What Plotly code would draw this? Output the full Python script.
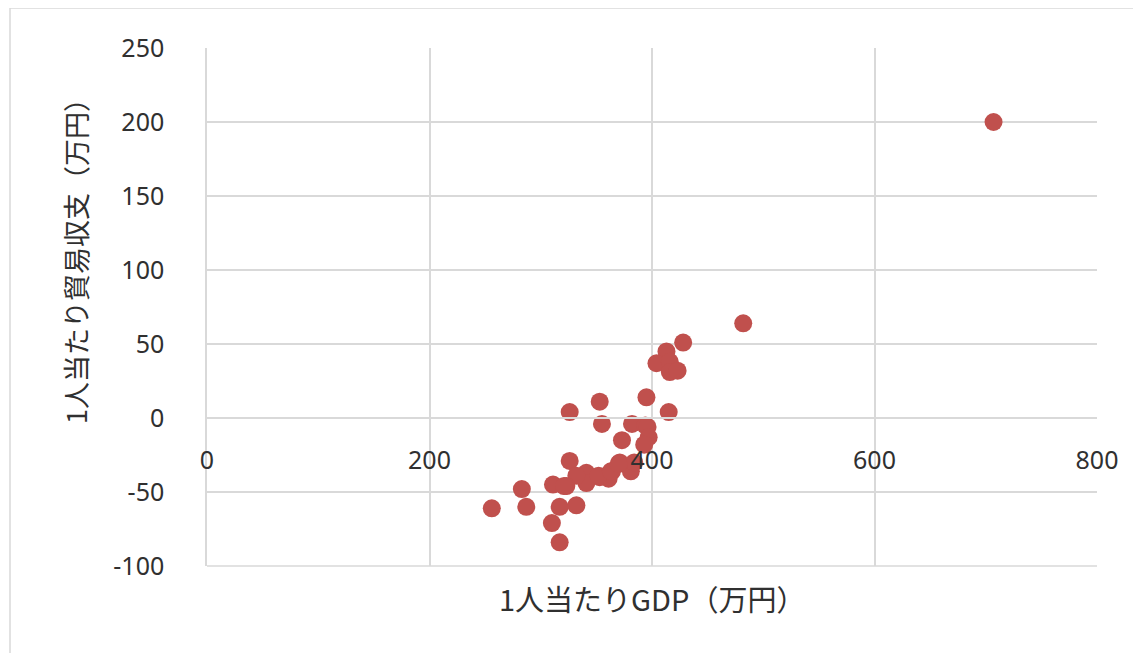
import plotly.graph_objects as go

# 1人当たりGDP（万円）
gdp = [707, 482, 428, 413, 404, 416, 416, 423, 395, 353, 326, 415, 355, 382, 394,
       396, 397, 373, 393, 326, 371, 381, 364, 361, 353, 341, 341, 332, 323, 311,
       321, 283, 287, 256, 317, 332, 310, 317, 384, 352, 363, 370]
# 1人当たり貿易収支（万円）
trade = [200, 64, 51, 45, 37, 38, 31, 32, 14, 11, 4, 4, -4, -4, -5,
         -6, -13, -15, -18, -29, -30, -36, -36, -41, -40, -37, -44, -39, -46, -45,
         -46, -48, -60, -61, -60, -59, -71, -84, -30, -39, -36, -31]

x_title = "1人当たりGDP（万円）"
y_title = "1人当たり貿易収支（万円）"
x_ticks = [0, 200, 400, 600, 800]
y_ticks = [-100, -50, 0, 50, 100, 150, 200, 250]
x_ticktext = [str(v) for v in x_ticks]
y_ticktext = [str(v) for v in y_ticks]

grid = "#D9D9D9"
txt = "#303030"
font_num = "Noto Sans, Liberation Sans, sans-serif"
font_jp = "Noto Sans CJK JP, sans-serif"

# page body has an 8px margin
W, H = 1133, 645
L, T, R, B = 199, 40, 44, 87
PW, PH = W - L - R, H - T - B


def px_x(px):
    return (px - 8 - L) / PW


def px_y(py):
    return (H - B - (py - 8)) / PH


fig = go.Figure()
fig.add_trace(go.Scatter(
    x=gdp, y=trade, mode="markers",
    marker=dict(size=18, color="#C0504D", line=dict(width=0)),
    hoverinfo="x+y", showlegend=False,
))

fig.update_layout(
    width=W, height=H,
    margin=dict(l=L, r=R, t=T, b=B),
    paper_bgcolor="white", plot_bgcolor="white",
    font=dict(family=font_num, size=25, color=txt),
    xaxis=dict(
        range=[0, 800], tickvals=x_ticks, ticktext=x_ticktext,
        showgrid=True, gridcolor=grid, gridwidth=1.5,
        zeroline=False, showline=True, linecolor=grid, linewidth=1.5,
        anchor="free", position=100 / 350,
        ticks="outside", ticklen=20, tickcolor="rgba(0,0,0,0)",
        tickfont=dict(family=font_num, size=25, color=txt),
    ),
    yaxis=dict(
        range=[-100, 250], tickvals=y_ticks, ticktext=y_ticktext,
        showgrid=True, gridcolor=grid, gridwidth=1.5,
        zeroline=False, showline=True, linecolor=grid, linewidth=1.5,
        ticks="outside", ticklen=36, tickcolor="rgba(0,0,0,0)",
        tickfont=dict(family=font_num, size=25, color=txt),
    ),
    annotations=[
        dict(text=x_title, xref="paper", yref="paper", x=0.5, y=px_y(598),
             showarrow=False, font=dict(family=font_jp, size=29, color=txt),
             xanchor="center", yanchor="middle"),
        dict(text=y_title, xref="paper", yref="paper", x=px_x(75), y=px_y(255),
             showarrow=False, textangle=-90, font=dict(family=font_jp, size=27, color=txt),
             xanchor="center", yanchor="middle"),
    ],
    shapes=[
        dict(type="rect", xref="paper", yref="paper",
             x0=px_x(10), x1=px_x(1138), y0=px_y(670), y1=px_y(8),
             line=dict(color="#D9D9D9", width=1.5), layer="below"),
        dict(type="line", xref="paper", yref="paper", x0=0, x1=1, y0=0, y1=0,
             line=dict(color=grid, width=1.5), layer="below"),
    ],
)

fig.write_html("out.html")
